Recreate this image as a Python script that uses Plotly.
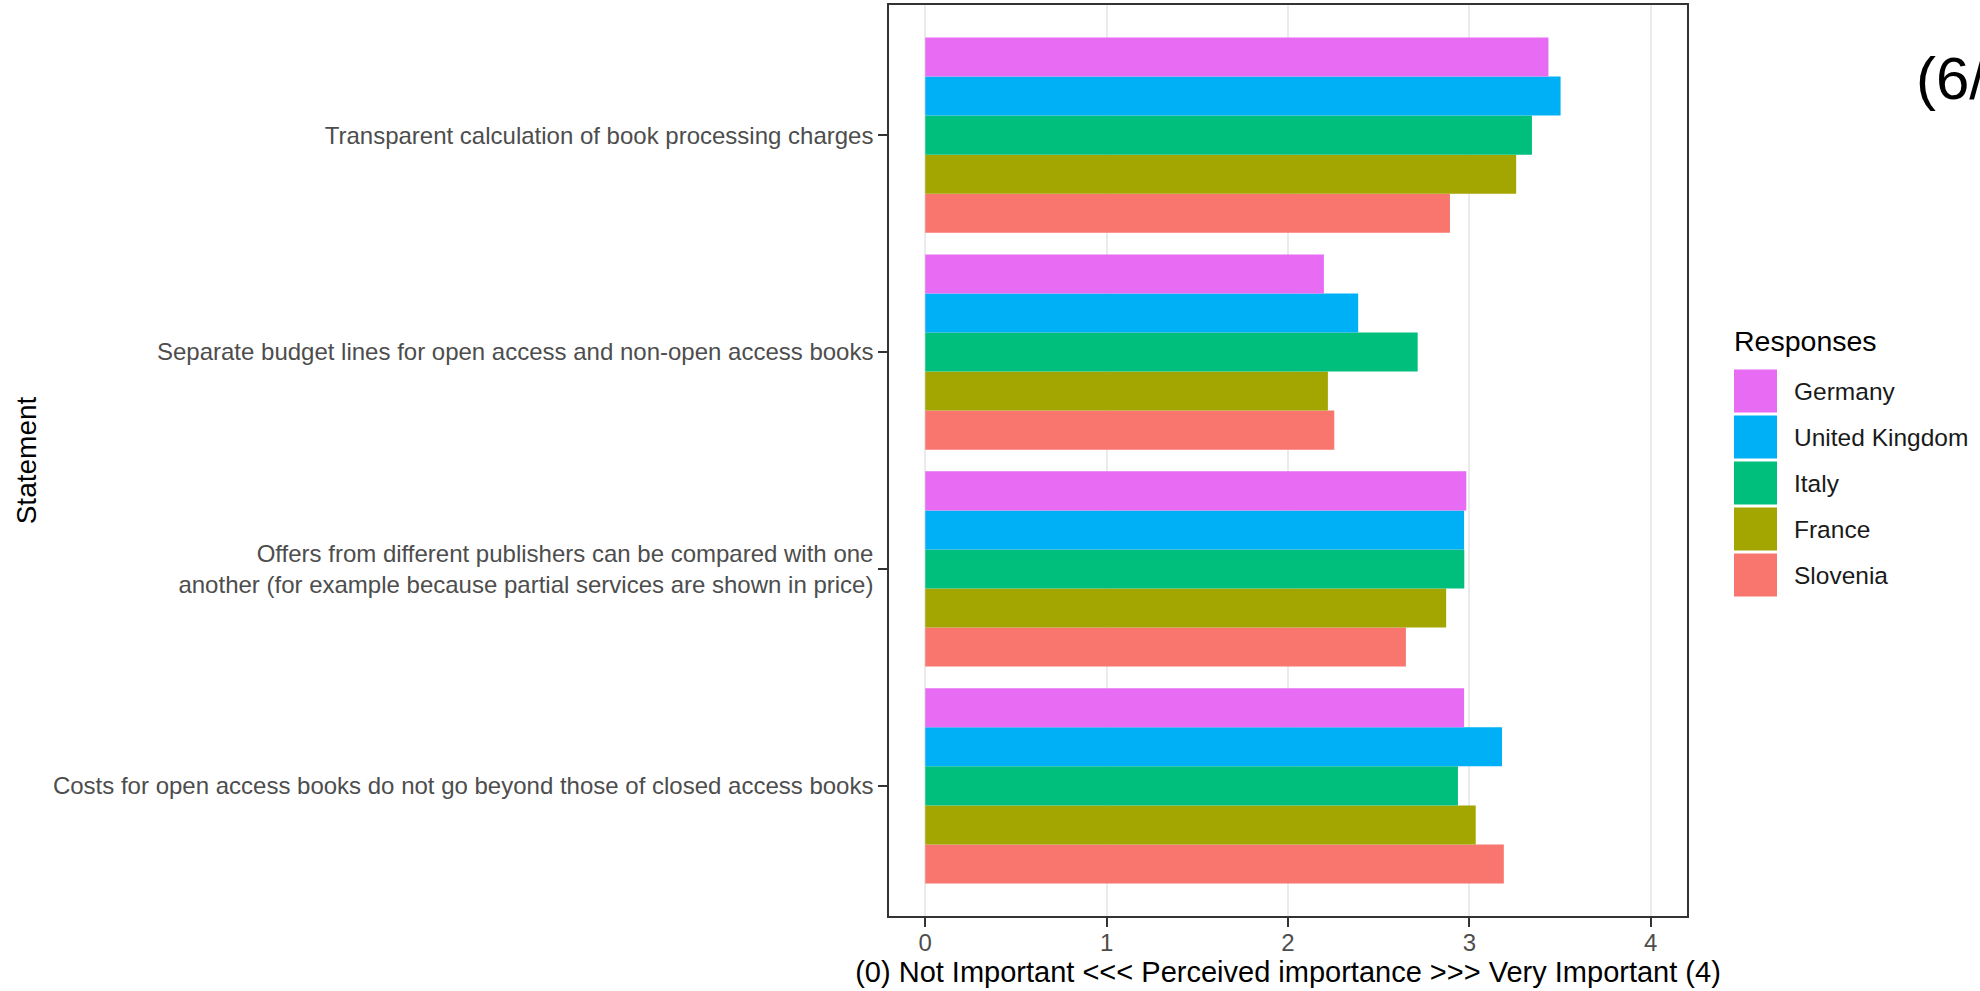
import plotly.graph_objects as go

# ---- data ----
statements = [
    "Costs for open access books do not go beyond those of closed access books",
    "Offers from different publishers can be compared with one<br>another (for example because partial services are shown in price)",
    "Separate budget lines for open access and non-open access books",
    "Transparent calculation of book processing charges",
]
# order within each group is bottom -> top in ggplot dodge
countries = ["Slovenia", "France", "Italy", "United Kingdom", "Germany"]
slovenia = [3.19, 2.65, 2.255, 2.893]
france = [3.035, 2.872, 2.22, 3.258]
italy = [2.937, 2.972, 2.715, 3.345]
united_kingdom = [3.18, 2.971, 2.387, 3.503]
germany = [2.971, 2.983, 2.198, 3.436]
values = [slovenia, france, italy, united_kingdom, germany]
colors = ["#F8766D", "#A3A500", "#00BF7D", "#00B0F6", "#E76BF3"]
legend_order = ["Germany", "United Kingdom", "Italy", "France", "Slovenia"]
x_ticks = [0, 1, 2, 3, 4]

FONT = "Liberation Sans, Arial, Helvetica, sans-serif"
W, H = 1980, 991
ML, MR, MT, MB = 889, 293, 5, 75
PW, PH = W - ML - MR, H - MT - MB


def px_x(px):
    return (px - ML) / PW


def px_y(py):
    return (H - MB - py) / PH


fig = go.Figure()
for name, vals, col in zip(countries, values, colors):
    fig.add_trace(go.Bar(
        y=statements, x=vals, name=name, orientation="h",
        marker=dict(color=col, line=dict(width=0)),
        showlegend=False,
    ))

shapes = []
annotations = []
# manual legend mimicking ggplot keys
annotations.append(dict(
    x=px_x(1732), y=px_y(341), xref="paper", yref="paper", text="Responses",
    showarrow=False, xanchor="left", yanchor="middle",
    font=dict(family=FONT, size=28.5, color="#000000"),
))
color_of = dict(zip(countries, colors))
for i, name in enumerate(legend_order):
    cy = 391 + 46 * i
    shapes.append(dict(
        type="rect", xref="paper", yref="paper",
        x0=px_x(1734), x1=px_x(1777), y0=px_y(cy + 21.5), y1=px_y(cy - 21.5),
        fillcolor=color_of[name], line=dict(width=0), layer="above",
    ))
    annotations.append(dict(
        x=px_x(1792), y=px_y(cy), xref="paper", yref="paper", text=name,
        showarrow=False, xanchor="left", yanchor="middle",
        font=dict(family=FONT, size=24.5, color="#1A1A1A"),
    ))
annotations.append(dict(
    x=px_x(1914), y=px_y(78), xref="paper", yref="paper", text="(6/",
    showarrow=False, xanchor="left", yanchor="middle",
    font=dict(family=FONT, size=60, color="#000000"),
))

fig.update_layout(
    width=W, height=H, autosize=False,
    margin=dict(l=ML, r=MR, t=MT, b=MB, pad=0),
    paper_bgcolor="white", plot_bgcolor="white",
    barmode="group", bargap=0.1, bargroupgap=0,
    font=dict(family=FONT, color="#000000"),
    shapes=shapes, annotations=annotations,
    showlegend=False,
)
fig.update_xaxes(
    range=[-0.2, 4.2], tickvals=x_ticks, ticktext=[str(t) for t in x_ticks],
    showgrid=True, gridcolor="#EBEBEB", gridwidth=1.5, zeroline=False,
    showline=True, mirror=True, linecolor="#333333", linewidth=1.5,
    ticks="outside", ticklen=9, tickwidth=1.5, tickcolor="#333333",
    ticklabelstandoff=-5,
    tickfont=dict(family=FONT, size=24, color="#4D4D4D"),
    title=dict(text="(0) Not Important <<< Perceived importance >>> Very Important (4)",
               font=dict(family=FONT, size=29, color="#000000"), standoff=5),
    automargin=False,
)
fig.update_yaxes(
    categoryorder="array", categoryarray=statements, range=[-0.6, 3.6],
    showgrid=False, zeroline=False,
    showline=True, mirror=True, linecolor="#333333", linewidth=1.5,
    ticks="outside", ticklen=9, tickwidth=1.5, tickcolor="#333333",
    tickfont=dict(family=FONT, size=24, color="#4D4D4D"),
    title=dict(text="Statement", font=dict(family=FONT, size=28, color="#000000"), standoff=8),
    automargin=False,
)

fig.write_html("out.html", config={"displayModeBar": False},
               post_script="document.body.style.margin='0';")
